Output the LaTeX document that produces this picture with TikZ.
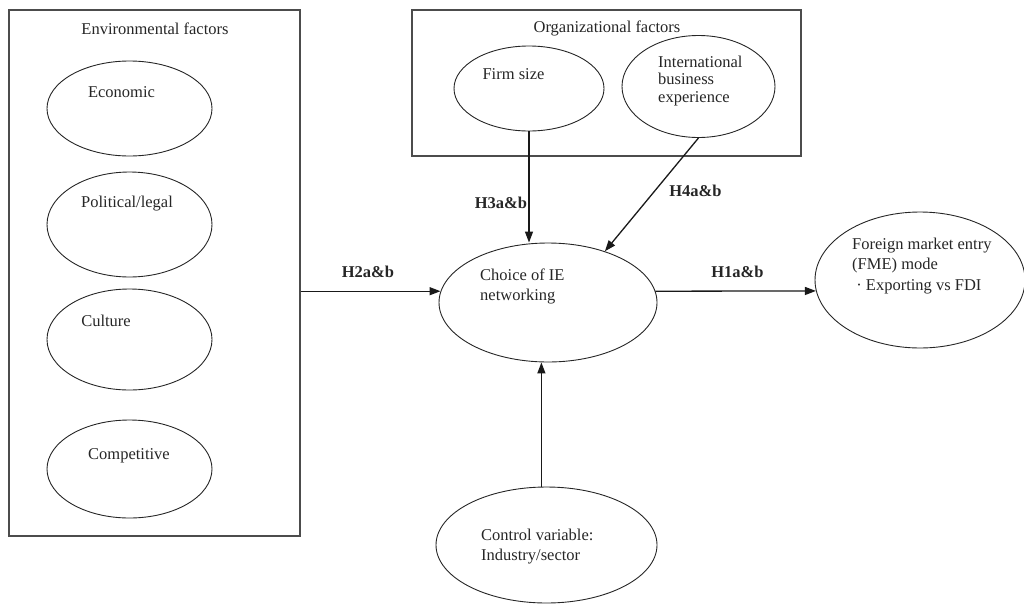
\documentclass[tikz,border=0pt]{standalone}
\usepackage{fontspec}
\setmainfont{Liberation Serif}
\usetikzlibrary{shapes.geometric,arrows.meta}
\begin{document}
\begin{tikzpicture}[x=1pt,y=-1pt,
  every node/.style={text=black!85},
  txt/.style={font=\fontsize{16.5}{20}\selectfont, inner sep=0pt, align=left},
  hyp/.style={font=\fontsize{16.5}{20}\selectfont\bfseries, inner sep=0pt, anchor=base},
  oval/.style={draw=black!85, line width=0.9pt, ellipse, inner sep=0pt},
  framebox/.style={draw=black!70, line width=1.1pt, rectangle, inner sep=0pt},
  arr/.style={draw=black!90, line width=1.3pt, -{Triangle[length=11pt,width=8pt]}}]
\useasboundingbox (0,0) rectangle (1024,605);
% boxes
\node[framebox, minimum width=291pt, minimum height=526pt] (envbox) at (154.5,273) {};
\node[framebox, minimum width=389pt, minimum height=146pt] (orgbox) at (606.5,83) {};
% environmental ellipses
\node[oval, minimum width=165pt, minimum height=95pt] (econ) at (129.5,108.5) {};
\node[oval, minimum width=165pt, minimum height=105pt] (pol) at (129.5,224.5) {};
\node[oval, minimum width=165pt, minimum height=101pt] (cult) at (129.5,339.5) {};
\node[oval, minimum width=165pt, minimum height=98pt] (comp) at (129.5,469) {};
% organizational ellipses
\node[oval, minimum width=150pt, minimum height=85pt] (firm) at (529,88.5) {};
\node[oval, minimum width=153pt, minimum height=102pt] (intl) at (698.5,86.5) {};
% central and others
\node[oval, minimum width=218pt, minimum height=119pt] (choice) at (548,302.5) {};
\node[oval, minimum width=210pt, minimum height=136pt] (fme) at (920,280) {};
\node[oval, minimum width=221pt, minimum height=116pt] (ctrl) at (546.5,545) {};
% texts
\node[txt, anchor=base] (tenv) at (155,34) {Environmental factors};
\node[txt, anchor=base] (tecon) at (121.5,97) {Economic};
\node[txt, anchor=base] (tpol) at (127,207) {Political/legal};
\node[txt, anchor=base] (tcult) at (106,326) {Culture};
\node[txt, anchor=base] (tcomp) at (129,459) {Competitive};
\node[txt, anchor=base] (torg) at (607,32) {Organizational factors};
\node[txt, anchor=base] (tfirm) at (513.5,79) {Firm size};
\node[txt, anchor=base west, font=\fontsize{16.5}{17.2}\selectfont] (tintl) at (658,102) {International\\business\\experience};
\node[txt, anchor=base west] (tchoice) at (480,300) {Choice of IE\\networking};
\node[txt, anchor=base west, font=\fontsize{16.5}{20.5}\selectfont] (tfme) at (852,290) {Foreign market entry\\(FME) mode\\\ \textperiodcentered\ Exporting vs FDI};
\node[txt, anchor=base west] (tctrl) at (481,560) {Control variable:\\Industry/sector};
% hypothesis labels
\node[hyp] (h3) at (501,208) {H3a\&b};
\node[hyp] (h4) at (695.5,196) {H4a\&b};
\node[hyp] (h2) at (368,277) {H2a\&b};
\node[hyp] (h1) at (737.5,277) {H1a\&b};
% connectors
\draw[arr] (firm.south) -- (firm.south |- choice.north);
\draw[arr] (intl.south) -- (choice.42.6);
\draw[arr] (envbox.east |- choice.174) -- (choice.174);
\draw[arr] (choice.6) -- (fme.186);
\draw[arr] (ctrl.95) -- (ctrl.95 |- choice.south);
\end{tikzpicture}
\end{document}
